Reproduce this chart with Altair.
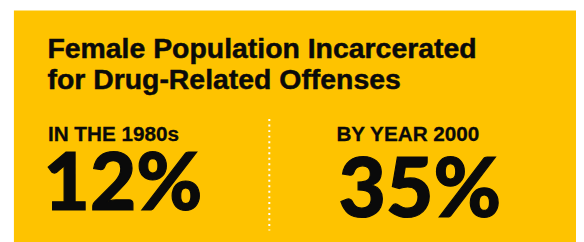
import altair as alt
import pandas as pd

# ---- data ----
title_lines = ["Female Population Incarcerated", "for Drug-Related Offenses"]
periods = ["IN THE 1980s", "BY YEAR 2000"]
shares = [12, 35]

YELLOW = "#FEC300"
INK = "#0a0a0a"

W, H = 576, 234

df = pd.DataFrame({"period": periods, "share": shares, "idx": [0, 1]})
df["pct"] = df["share"].astype(str) + "%"
title_df = pd.DataFrame({"title": ["\n".join(title_lines)]})

base = alt.Chart(df)

panel = alt.Chart(pd.DataFrame({"a": [0]})).mark_rect(color=YELLOW).encode(
    x=alt.value(6), x2=alt.value(W + 10), y=alt.value(1), y2=alt.value(H + 10)
)

title = alt.Chart(title_df).mark_text(
    align="left", baseline="alphabetic", font="Liberation Sans", fontWeight="bold",
    fontSize=28.8, lineHeight=31, lineBreak="\n", color=INK, stroke=INK, strokeWidth=0.5,
).encode(text="title:N", x=alt.value(40), y=alt.value(49.3))

divider = alt.Chart(pd.DataFrame({"a": [0]})).mark_rule(
    color="white", strokeWidth=2, strokeDash=[2, 3.6]
).encode(x=alt.value(265), y=alt.value(111), y2=alt.value(224))

def label(i, x):
    return base.transform_filter(alt.datum.idx == i).mark_text(
        align="left", baseline="alphabetic", font="Liberation Sans", fontWeight="bold",
        fontSize=21, color=INK, stroke=INK, strokeWidth=0.3,
    ).encode(text="period:N", x=alt.value(x), y=alt.value(133))

def number(i, x, y, size):
    return base.transform_filter(alt.datum.idx == i).mark_text(
        align="right", baseline="alphabetic", font="Lato", fontWeight=900,
        fontSize=size, color=INK, stroke=INK, strokeWidth=1.2,
    ).encode(text="pct:N", x=alt.value(x), y=alt.value(y))

chart = alt.layer(
    panel, title, divider,
    label(0, 40.5), label(1, 333),
    number(0, 197, 203.5, 81), number(1, 500, 210.5, 83),
).properties(
    width=W, height=H, autosize=alt.AutoSizeParams(type="none"), padding=0,
    background="white",
).configure_view(stroke=None)

chart.save("out.html", embed_options={"renderer": "svg", "actions": False})
